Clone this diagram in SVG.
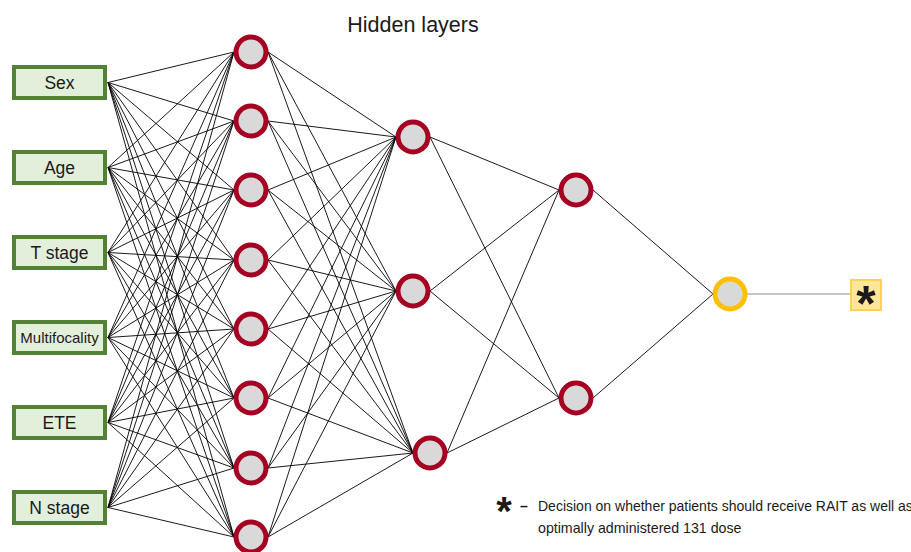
<svg xmlns="http://www.w3.org/2000/svg" width="911" height="552" viewBox="0 0 911 552">
<style>
text{font-family:"Liberation Sans",Arial,sans-serif;fill:#1a1a1a}
.in rect{fill:#e2efda;stroke:#548235;stroke-width:4}
.in text{font-size:17.5px;text-anchor:middle}
.h circle{fill:#d9d9d9;stroke:#a50021;stroke-width:5}
.o circle{fill:#d9d9d9;stroke:#ffc000;stroke-width:5}
#connectors path{fill:none;stroke:#000;stroke-width:0.9}
</style>
<rect width="911" height="552" fill="#fff"/>
<text x="413" y="32" font-size="21.5" text-anchor="middle">Hidden layers</text>
<g id="connectors">
<path d="M108 82.5L234 52M108 82.5L234 121M108 82.5L234 190M108 82.5L234 260M108 82.5L234 329M108 82.5L234 398M108 82.5L234 468M108 82.5L234 537"/>
<path d="M108 167.5L234 52M108 167.5L234 121M108 167.5L234 190M108 167.5L234 260M108 167.5L234 329M108 167.5L234 398M108 167.5L234 468M108 167.5L234 537"/>
<path d="M108 252.5L234 52M108 252.5L234 121M108 252.5L234 190M108 252.5L234 260M108 252.5L234 329M108 252.5L234 398M108 252.5L234 468M108 252.5L234 537"/>
<path d="M108 337.5L234 52M108 337.5L234 121M108 337.5L234 190M108 337.5L234 260M108 337.5L234 329M108 337.5L234 398M108 337.5L234 468M108 337.5L234 537"/>
<path d="M108 422.5L234 52M108 422.5L234 121M108 422.5L234 190M108 422.5L234 260M108 422.5L234 329M108 422.5L234 398M108 422.5L234 468M108 422.5L234 537"/>
<path d="M108 507.5L234 52M108 507.5L234 121M108 507.5L234 190M108 507.5L234 260M108 507.5L234 329M108 507.5L234 398M108 507.5L234 468M108 507.5L234 537"/>
<path d="M268 52L396 137M268 52L396 291M268 52L413 453M268 121L396 137M268 121L396 291M268 121L413 453M268 190L396 137M268 190L396 291M268 190L413 453M268 260L396 137M268 260L396 291M268 260L413 453"/>
<path d="M268 329L396 137M268 329L396 291M268 329L413 453M268 398L396 137M268 398L396 291M268 398L413 453M268 468L396 137M268 468L396 291M268 468L413 453M268 537L396 137M268 537L396 291M268 537L413 453"/>
<path d="M430 137L559 190M430 137L559 398M430 291L559 190M430 291L559 398M447 453L559 190M447 453L559 398"/>
<path d="M593 190L713 294M593 398L713 294"/>
<path d="M747 294L851 294" style="stroke:#7f7f7f"/>
</g>
<g id="in-sex" class="in"><rect x="14" y="67" width="91" height="31"/><text x="59.5" y="89">Sex</text></g>
<g id="in-age" class="in"><rect x="14" y="152" width="91" height="31"/><text x="59.5" y="174">Age</text></g>
<g id="in-tstage" class="in"><rect x="14" y="237" width="91" height="31"/><text x="59.5" y="259">T stage</text></g>
<g id="in-multi" class="in"><rect x="14" y="322" width="91" height="31"/><text x="59.5" y="343" style="font-size:15px">Multifocality</text></g>
<g id="in-ete" class="in"><rect x="14" y="407" width="91" height="31"/><text x="59.5" y="429">ETE</text></g>
<g id="in-nstage" class="in"><rect x="14" y="492" width="91" height="31"/><text x="59.5" y="514">N stage</text></g>
<g id="h1-1" class="h"><circle cx="251" cy="52" r="15"/></g>
<g id="h1-2" class="h"><circle cx="251" cy="121" r="15"/></g>
<g id="h1-3" class="h"><circle cx="251" cy="190" r="15"/></g>
<g id="h1-4" class="h"><circle cx="251" cy="260" r="15"/></g>
<g id="h1-5" class="h"><circle cx="251" cy="329" r="15"/></g>
<g id="h1-6" class="h"><circle cx="251" cy="398" r="15"/></g>
<g id="h1-7" class="h"><circle cx="251" cy="468" r="15"/></g>
<g id="h1-8" class="h"><circle cx="251" cy="537" r="15"/></g>
<g id="h2-1" class="h"><circle cx="413" cy="137" r="15"/></g>
<g id="h2-2" class="h"><circle cx="413" cy="291" r="15"/></g>
<g id="h2-3" class="h"><circle cx="430" cy="453" r="15"/></g>
<g id="h3-1" class="h"><circle cx="576" cy="190" r="15"/></g>
<g id="h3-2" class="h"><circle cx="576" cy="398" r="15"/></g>
<g id="out" class="o"><circle cx="730" cy="294" r="15"/></g>
<g id="result"><rect x="851" y="280" width="30" height="30" fill="#ffe699" stroke="#ffd34d" stroke-width="2"/><text x="866" y="321" font-size="50" font-weight="bold" text-anchor="middle" fill="#000">*</text></g>
<g id="legend">
<text x="504" y="525" font-size="40" font-weight="bold" text-anchor="middle" fill="#000">*</text>
<text x="520" y="511" font-size="14" font-weight="bold">–</text>
<text x="538" y="511" font-size="14">Decision on whether patients should receive RAIT as well as</text>
<text x="538" y="533" font-size="14.2">optimally administered 131 dose</text>
</g>
</svg>
